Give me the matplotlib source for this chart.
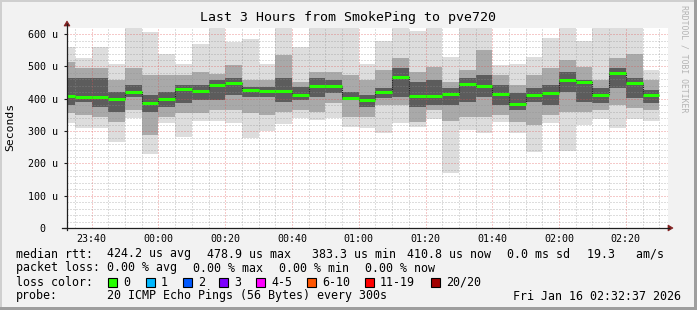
import matplotlib
matplotlib.use("Agg")
import matplotlib.pyplot as plt
from matplotlib.patches import Rectangle, Polygon
from matplotlib.lines import Line2D

W, H = 697, 310
MONO = "DejaVu Sans Mono"
plt.rcParams["font.family"] = [MONO]

# ---------------- data (5-minute buckets, values in microseconds) ----------------
bucket_labels = ["23:30", "23:35", "23:40", "23:45", "23:50", "23:55",
                 "00:00", "00:05", "00:10", "00:15", "00:20", "00:25",
                 "00:30", "00:35", "00:40", "00:45", "00:50", "00:55",
                 "01:00", "01:05", "01:10", "01:15", "01:20", "01:25",
                 "01:30", "01:35", "01:40", "01:45", "01:50", "01:55",
                 "02:00", "02:05", "02:10", "02:15", "02:20", "02:25"]

rtt_median = [409, 406, 406, 399, 422, 388, 398, 431, 425, 443, 449, 427,
              425, 425, 411, 439, 439, 403, 397, 422, 468, 408, 408, 414,
              446, 440, 414, 383.3, 411, 418, 458, 451, 411, 478.9, 449, 410.8]
rtt_max = [561, 525, 561, 509, 620, 606, 538, 509, 571, 620, 575, 585,
           507, 620, 561, 620, 620, 620, 509, 578, 620, 609, 620, 530,
           620, 620, 504, 509, 530, 589, 620, 578, 620, 620, 620, 489]
rtt_min = [324, 308, 308, 267, 339, 228, 325, 281, 330, 330, 326, 279,
           300, 322, 339, 334, 339, 313, 308, 295, 326, 313, 336, 170,
           303, 295, 329, 295, 236, 326, 239, 319, 337, 308, 336, 331]
mid_hi = [515, 494, 494, 458, 494, 473, 473, 473, 484, 478, 504, 458,
          458, 535, 453, 484, 484, 473, 458, 489, 525, 484, 499, 453,
          489, 551, 473, 442, 473, 494, 520, 499, 458, 525, 540, 458]
mid_lo = [355, 350, 344, 329, 365, 288, 344, 355, 355, 365, 365, 355,
          350, 360, 365, 360, 386, 344, 344, 380, 380, 329, 365, 330,
          344, 344, 350, 329, 319, 350, 360, 360, 365, 380, 370, 365]
core_hi = [463, 463, 463, 422, 442, 411, 422, 442, 442, 458, 463, 437,
           437, 463, 437, 463, 458, 422, 411, 432, 494, 453, 458, 432,
           463, 473, 442, 417, 432, 442, 484, 458, 432, 494, 463, 427]
core_lo = [380, 391, 375, 360, 406, 360, 375, 386, 396, 396, 411, 406,
           406, 391, 396, 406, 417, 396, 375, 401, 406, 375, 380, 380,
           391, 406, 380, 365, 391, 380, 422, 391, 386, 432, 401, 386]

x_tick_labels = ["23:40", "00:00", "00:20", "00:40", "01:00",
                 "01:20", "01:40", "02:00", "02:20"]
y_tick_values = [0, 100, 200, 300, 400, 500, 600]
y_tick_labels = ["0  ", "100 u", "200 u", "300 u", "400 u", "500 u", "600 u"]

loss_labels = ["0", "1", "2", "3", "4-5", "6-10", "11-19", "20/20"]
loss_colors = ["#26ff00", "#00b8ff", "#0059ff", "#7e00ff",
               "#ff00ff", "#ff5500", "#ff0000", "#a10000"]


def to_min(lbl):
    h, m = map(int, lbl.split(":"))
    return (h * 60 + m - (23 * 60 + 30)) % 1440


bx = [to_min(b) for b in bucket_labels]
xt = [to_min(t) for t in x_tick_labels]
t_start = 2 + 37 / 60.0
t_end = t_start + 180

# ---------------- figure ----------------
fig = plt.figure(figsize=(W / 100, H / 100), dpi=100, facecolor="#f2f2f2")


def fx(x):
    return x / W


def fy(y):
    return 1 - y / H


# border shading (rrdtool style)
fig.patches.append(Rectangle((0, fy(2)), 1, 2 / H, transform=fig.transFigure,
                             facecolor="#cfcfcf", lw=0))
fig.patches.append(Rectangle((0, 0), 2 / W, 1, transform=fig.transFigure,
                             facecolor="#cfcfcf", lw=0))
fig.patches.append(Rectangle((0, 0), 1, 3 / H, transform=fig.transFigure,
                             facecolor="#9e9e9e", lw=0))
fig.patches.append(Rectangle((fx(694), 0), 3 / W, 1, transform=fig.transFigure,
                             facecolor="#9e9e9e", lw=0))

ax = fig.add_axes([fx(67), fy(228), (668 - 67) / W, (228 - 27.7) / H])
ax.set_facecolor("white")
ax.set_xlim(t_start, t_end)
ax.set_ylim(0, 620)

widths = [5] * len(bx)
ax.bar(bx, [a - b for a, b in zip(rtt_max, rtt_min)], bottom=rtt_min,
       width=widths, align="edge", color="#dddddd", lw=0, zorder=1)
ax.bar(bx, [a - b for a, b in zip(mid_hi, mid_lo)], bottom=mid_lo,
       width=widths, align="edge", color="#a9a9a9", lw=0, zorder=1.1)
ax.bar(bx, [a - b for a, b in zip(core_hi, core_lo)], bottom=core_lo,
       width=widths, align="edge", color="#5c5c5c", lw=0, zorder=1.2)

# median: dark step connector + green segments
ax.step(bx + [bx[-1] + 5], rtt_median + [rtt_median[-1]], where="post",
        color="#202020", lw=0.8, ls=(0, (1, 1)), zorder=4)
ax.hlines(rtt_median, bx, [b + 5 for b in bx], color=loss_colors[0],
          lw=2.2, zorder=5)

# grid
ax.set_xticks(xt)
ax.set_xticklabels(x_tick_labels, fontsize=7.2, family=MONO)
ax.set_xticks(list(range(5, 185, 5)), minor=True)
ax.set_yticks(y_tick_values)
ax.set_yticklabels(y_tick_labels, fontsize=7.2, family=MONO)
ax.set_yticks(list(range(20, 620, 20)), minor=True)
ax.set_axisbelow(False)
ax.grid(which="minor", color="#8f8f8f", alpha=0.6, lw=0.72, ls=(0, (1, 2)))
ax.grid(which="major", color="#de4f4f", alpha=0.6, lw=0.72, ls=(0, (1, 2)))
ax.tick_params(axis="x", which="both", length=0, pad=4, colors="#000000")
ax.tick_params(axis="y", which="major", length=2.5, width=0.8, pad=4,
               color="#1f1f1f", labelcolor="#000000")
ax.tick_params(axis="y", which="minor", length=0)
for s in ax.spines.values():
    s.set_visible(False)

# axes with arrows
fig.lines.append(Line2D([fx(67), fx(67)], [fy(230), fy(24)],
                        transform=fig.transFigure, color="#1f1f1f", lw=0.9))
fig.lines.append(Line2D([fx(62), fx(669)], [fy(228), fy(228)],
                        transform=fig.transFigure, color="#1f1f1f", lw=0.9))
fig.patches.append(Polygon([(fx(64), fy(26)), (fx(70), fy(26)), (fx(67), fy(21))],
                           closed=True, transform=fig.transFigure,
                           facecolor="#801f1f", edgecolor="#801f1f", lw=0.5))
fig.patches.append(Polygon([(fx(668), fy(225)), (fx(668), fy(231)), (fx(673), fy(228))],
                           closed=True, transform=fig.transFigure,
                           facecolor="#801f1f", edgecolor="#801f1f", lw=0.5))

# titles
fig.text(fx(348), fy(18), "Last 3 Hours from SmokePing to pve720",
         ha="center", va="center", fontsize=9.5, family=MONO)
fig.text(fx(10), fy(127), "Seconds", rotation=90, ha="center", va="center",
         fontsize=8.2, family=MONO)
fig.text(fx(684), fy(59), "RRDTOOL / TOBI OETIKER", rotation=-90,
         ha="center", va="center", fontsize=5.9, family=MONO, color="#b4b4b4")

# legend lines
FS = 8.4
y1, y2, y3, y4 = 254, 268, 282, 296
fig.text(fx(16), fy(y1), "median rtt:", va="center", fontsize=FS, family=MONO)
for xpos, s in [(107, "424.2 us avg"), (207, "478.9 us max"), (312, "383.3 us min"),
                (407, "410.8 us now"), (507, "0.0 ms sd"), (587, "19.3   am/s")]:
    fig.text(fx(xpos), fy(y1), s, va="center", fontsize=FS, family=MONO)

fig.text(fx(16), fy(y2), "packet loss:", va="center", fontsize=FS, family=MONO)
for xpos, s in [(107, "0.00 % avg"), (193, "0.00 % max"), (279, "0.00 % min"),
                (365, "0.00 % now")]:
    fig.text(fx(xpos), fy(y2), s, va="center", fontsize=FS, family=MONO)

fig.text(fx(16), fy(y3), "loss color:", va="center", fontsize=FS, family=MONO)
box_x = [108, 146, 183, 219, 256, 307, 365, 431]
for bxp, lbl, col in zip(box_x, loss_labels, loss_colors):
    fig.patches.append(Rectangle((fx(bxp), fy(y3 + 4.5)), 9 / W, 9 / H,
                                 transform=fig.transFigure, facecolor=col,
                                 edgecolor="#000000", lw=0.8))
    fig.text(fx(bxp + 15), fy(y3), lbl, va="center", fontsize=FS, family=MONO)

fig.text(fx(16), fy(y4), "probe:", va="center", fontsize=FS, family=MONO)
fig.text(fx(107), fy(y4), "20 ICMP Echo Pings (56 Bytes) every 300s",
         va="center", fontsize=FS, family=MONO)
fig.text(fx(513), fy(y4), "Fri Jan 16 02:32:37 2026", va="center",
         fontsize=FS, family=MONO)

fig.savefig("out.png", dpi=100, facecolor=fig.get_facecolor())
